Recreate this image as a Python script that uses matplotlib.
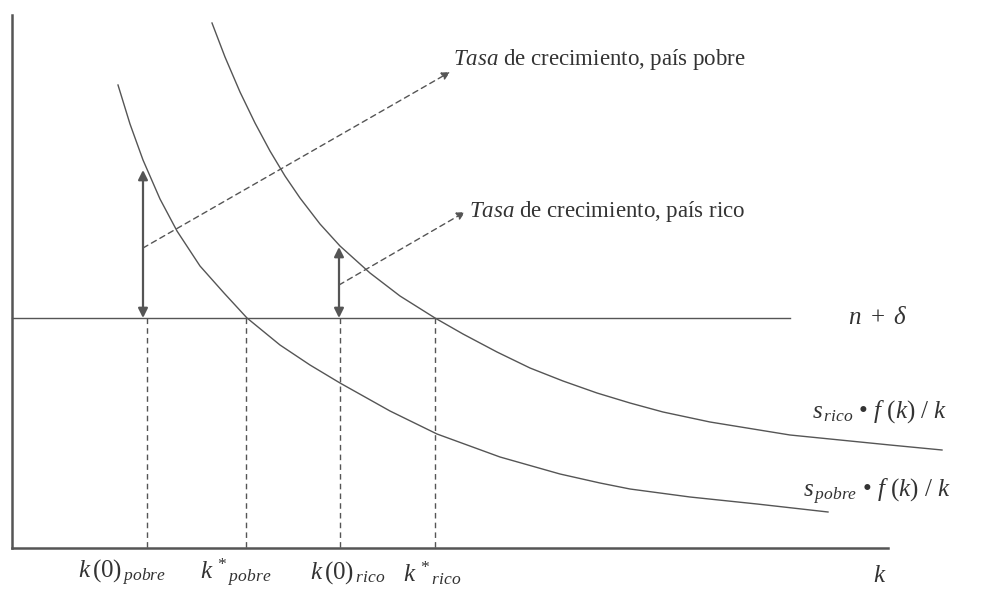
"""Solow model diagram: growth rates of a poor and a rich country."""
import matplotlib
matplotlib.use("Agg")
import matplotlib.pyplot as plt

plt.rcParams["mathtext.fontset"] = "custom"
plt.rcParams["mathtext.rm"] = "Liberation Serif"
plt.rcParams["mathtext.it"] = "Liberation Serif:italic"
plt.rcParams["font.family"] = ["Liberation Serif", "DejaVu Serif"]

# curves (k, growth) in picture units
rico_k = [212, 225, 240, 255, 270, 285, 300, 320, 340, 370, 400, 435, 463, 497,
          530, 563, 597, 630, 663, 710, 790, 890, 942]
rico_y = [23, 57, 92, 123, 151, 176, 198, 224, 246, 273, 296, 318, 334, 352,
          368, 381, 393, 403, 412, 422, 435, 445, 450]
pobre_k = [118, 130, 143, 160, 177, 200, 224, 247, 280, 310, 340, 390, 437, 500,
           560, 600, 630, 690, 757, 828]
pobre_y = [85, 124, 160, 199, 231, 266, 293, 318, 345, 365, 383, 411, 434, 457,
           474, 483, 489, 497, 504, 512]

n_delta = 318          # level of n + delta
k_end = 790            # where the n + delta line stops
k0_pobre, kstar_pobre, k0_rico, kstar_rico = 147, 246, 340, 435
top_pobre, top_rico = 170, 247   # tips of the double arrows
axis_y, axis_top, axis_x, axis_right = 548, 15, 12, 888

ink = "#555555"
txt = "#333333"

fig = plt.figure(figsize=(9.92, 5.9), dpi=100)
ax = fig.add_axes([0, 0, 1, 1])
ax.set_xlim(0, 992)
ax.set_ylim(590, 0)
ax.axis("off")

# axes
ax.plot([axis_x, axis_x], [axis_top, axis_y], color=ink, lw=1.8)
ax.plot([axis_x, axis_right], [axis_y, axis_y], color=ink, lw=1.8)

# n + delta line and the two s f(k)/k curves
ax.plot([axis_x, k_end], [n_delta, n_delta], color=ink, lw=1.0)
ax.plot(rico_k, rico_y, color=ink, lw=1.0)
ax.plot(pobre_k, pobre_y, color=ink, lw=1.0)

# dashed drop lines
for kx in (k0_pobre, kstar_pobre, k0_rico, kstar_rico):
    ax.plot([kx, kx], [n_delta, axis_y], color=ink, lw=1.0, ls=(0, (4, 3)))

# double arrows for the growth rates
for kx, top in ((k0_pobre - 4, top_pobre), (k0_rico - 1, top_rico)):
    ax.annotate("", xy=(kx, top), xytext=(kx, n_delta),
                arrowprops=dict(arrowstyle="<|-|>", color=ink, lw=1.6,
                                mutation_scale=14, shrinkA=0, shrinkB=0))

# dashed pointers to the labels
pointers = [((k0_pobre - 4, 248), (450, 72)), ((k0_rico - 1, 285), (465, 212))]
for start, end in pointers:
    ax.annotate("", xy=end, xytext=start,
                arrowprops=dict(arrowstyle="-|>", color=ink, lw=1.0, ls=(0, (4, 3)),
                                mutation_scale=12, shrinkA=0, shrinkB=0))

ax.text(453, 60, r"$\it{Tasa}$ de crecimiento, país pobre", fontsize=16.5,
        color=txt, va="center", ha="left")
ax.text(469, 212, r"$\it{Tasa}$ de crecimiento, país rico", fontsize=16.5,
        color=txt, va="center", ha="left")

ax.text(848, 318, r"$n\ +\ \delta$", fontsize=18, color=txt, va="center")
ax.text(812, 412, r"$s_{\,rico}$ • $f\ (k)\ /\ k$", fontsize=18, color=txt,
        va="center")
ax.text(803, 492, r"$s_{\,pobre}$ • $f\ (k)\ /\ k$", fontsize=18, color=txt,
        va="center")

k_labels = [r"$k\,(0)_{\,pobre}$", r"$k\ ^{*}{}_{\,pobre}$",
            r"$k\,(0)_{\,rico}$", r"$k\ ^{*}{}_{\,rico}$"]
for kx, lab in zip((k0_pobre - 25, kstar_pobre - 10, k0_rico + 8, kstar_rico - 3), k_labels):
    ax.text(kx, 573, lab, fontsize=18, color=txt, va="center", ha="center")
ax.text(873, 576, r"$k$", fontsize=18, color=txt, va="center")

fig.savefig("out.png", dpi=100)
